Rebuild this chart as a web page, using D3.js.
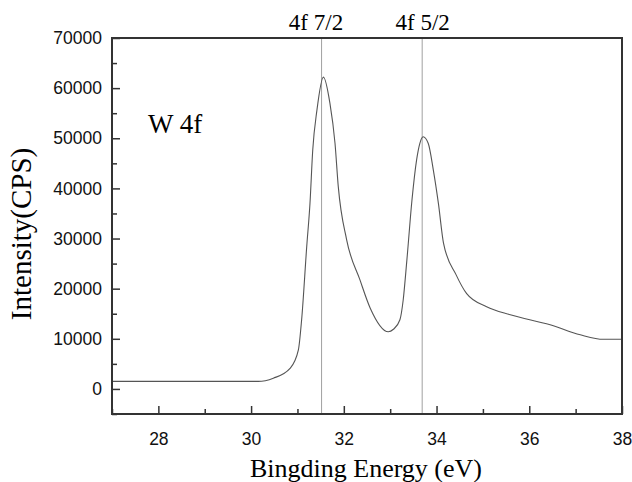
<!DOCTYPE html>
<html><head><meta charset="utf-8">
<script src="https://cdn.jsdelivr.net/npm/d3@7"></script>
<style>body{margin:0;background:#fff}svg{display:block}</style>
</head><body>
<script>
const energy = [27.0, 30.15, 30.48, 30.84, 31.02, 31.09, 31.20, 31.27, 31.33, 31.42, 31.56, 31.70, 31.81, 31.88, 32.06, 32.35, 32.57, 32.96, 33.07, 33.21, 33.28, 33.36, 33.47, 33.57, 33.64, 33.71, 33.82, 33.93, 34.04, 34.15, 34.42, 34.65, 35.08, 35.59, 36.45, 37.10, 37.60, 38.0];
const intensity = [1500, 1500, 2150, 4100, 7800, 13800, 28400, 37000, 47700, 55600, 62200, 57000, 49000, 40400, 29800, 21700, 16100, 11400, 11900, 13800, 17700, 25700, 37700, 45700, 49000, 50300, 49000, 43700, 37000, 29100, 22800, 19000, 16400, 14800, 12800, 10800, 9900, 9900];
const peakPositions = [31.52, 33.69];
const peakLabelPositions = [31.40, 33.70];
const peakLabels = ["4f 7/2", "4f 5/2"];
const xTicks = [28, 30, 32, 34, 36, 38];
const yTicks = [0, 10000, 20000, 30000, 40000, 50000, 60000, 70000];

const W = 632, H = 482;
const m = {l:112, r:10, t:38, b:68};
const serif = "Liberation Serif, Times New Roman, serif";
const svg = d3.select("body").append("svg").attr("width", W).attr("height", H);
const x = d3.scaleLinear().domain([27, 38]).range([m.l, W - m.r]);
const y = d3.scaleLinear().domain([-5000, 70000]).range([H - m.b, m.t]);

// peak lines
svg.selectAll("line.peak").data(peakPositions).join("line")
  .attr("x1", d => x(d)).attr("x2", d => x(d))
  .attr("y1", y(70000)).attr("y2", y(-5000))
  .attr("stroke", "#a0a0a0").attr("stroke-width", 1);
svg.selectAll("text.peak").data(peakLabelPositions).join("text")
  .attr("x", d => x(d)).attr("y", 30).attr("text-anchor", "middle")
  .attr("font-family", serif).attr("font-size", 23)
  .text((d, i) => peakLabels[i]);

// curve
const line = d3.line().x((d, i) => x(energy[i])).y(d => y(d)).curve(d3.curveMonotoneX);
svg.append("path").attr("d", line(intensity)).attr("fill", "none")
  .attr("stroke", "#555").attr("stroke-width", 1.1);

// axes
const xMinor = d3.range(27, 38.01, 1).filter(v => v % 2 === 1);
const yMinor = d3.range(-5000, 70001, 10000);
const gx = svg.append("g").attr("transform", `translate(0,${H - m.b})`);
gx.call(d3.axisBottom(x).tickValues(xTicks).tickFormat(d3.format("d")).tickSize(-8).tickPadding(19));
gx.append("g").call(d3.axisBottom(x).tickValues(xMinor).tickFormat("").tickSize(-5));
const gy = svg.append("g").attr("transform", `translate(${m.l},0)`);
gy.call(d3.axisLeft(y).tickValues(yTicks).tickFormat(d3.format("d")).tickSize(-8).tickPadding(10));
gy.append("g").call(d3.axisLeft(y).tickValues(yMinor).tickFormat("").tickSize(-5));
svg.selectAll(".domain").remove();
svg.selectAll(".tick line").attr("stroke", "#333").attr("stroke-width", 1.5);
svg.selectAll(".tick text").attr("font-family", "Liberation Sans, Arial, sans-serif").attr("font-size", 17.5).attr("fill", "#111");

// frame
svg.append("rect").attr("x", m.l).attr("y", m.t).attr("width", W - m.r - m.l).attr("height", H - m.b - m.t)
  .attr("fill", "none").attr("stroke", "#333").attr("stroke-width", 2);

// labels
svg.append("text").attr("x", 148).attr("y", 133)
  .attr("font-family", serif).attr("font-size", 27).text("W 4f");
svg.append("text").attr("x", 366).attr("y", 477).attr("text-anchor", "middle")
  .attr("font-family", serif).attr("font-size", 26).text("Bingding Energy (eV)");
svg.append("text").attr("transform", `translate(31,234) rotate(-90)`).attr("text-anchor", "middle")
  .attr("font-family", serif).attr("font-size", 29).text("Intensity(CPS)");
</script>
</body></html>
